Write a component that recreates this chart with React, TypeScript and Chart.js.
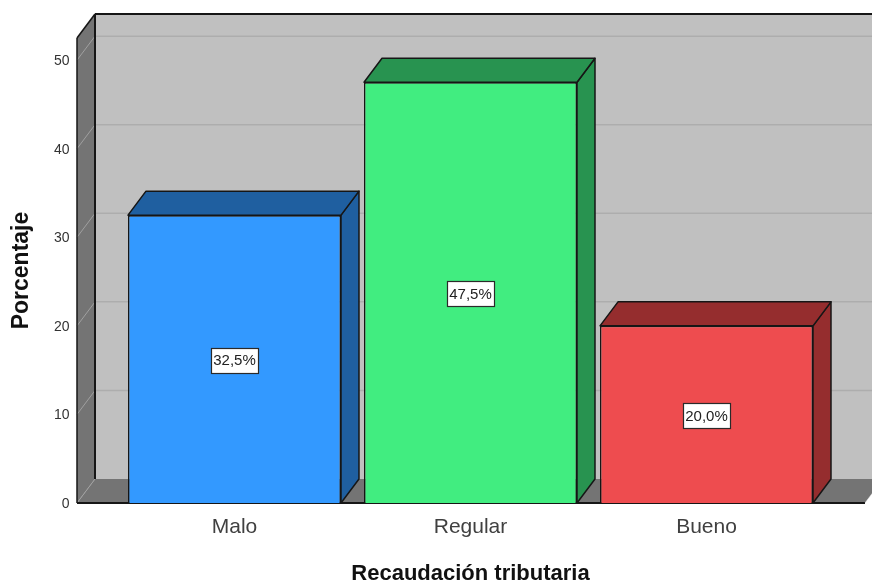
import React, { useEffect, useRef } from "react";
import { Chart, registerables } from "chart.js";

Chart.register(...registerables);

const categories = ["Malo", "Regular", "Bueno"];
const percentages = [32.5, 47.5, 20.0];
const faceColors = ["#3399ff", "#41ed80", "#ee4c4f"];
const sideColors = ["#1f5fa0", "#289350", "#952d2e"];
const axisTitleX = "Recaudación tributaria";
const axisTitleY = "Porcentaje";
const FONT = "'Liberation Sans', Arial, sans-serif";
const DX = 18;
const DY = 24;
const INK = "#161616";

function poly(ctx: any, pts: number[][], fill: string | null, stroke: string | null, lw = 1.5) {
  ctx.beginPath();
  pts.forEach((p, i) => (i ? ctx.lineTo(p[0], p[1]) : ctx.moveTo(p[0], p[1])));
  ctx.closePath();
  if (fill) {
    ctx.fillStyle = fill;
    ctx.fill();
  }
  if (stroke) {
    ctx.strokeStyle = stroke;
    ctx.lineWidth = lw;
    ctx.lineJoin = "round";
    ctx.stroke();
  }
}

function seg(ctx: any, x1: number, y1: number, x2: number, y2: number, color: string, lw: number) {
  ctx.beginPath();
  ctx.moveTo(x1, y1);
  ctx.lineTo(x2, y2);
  ctx.strokeStyle = color;
  ctx.lineWidth = lw;
  ctx.stroke();
}

const scene3d = {
  id: "scene3d",
  beforeDatasetsDraw(chart: any) {
    const { ctx, chartArea, scales } = chart;
    const y0 = scales.y.getPixelForValue(0);
    const top = chartArea.top;
    const left = 77;
    const right = 865;
    ctx.save();
    // back wall
    poly(ctx, [[left + DX, top - DY], [right + DX + 20, top - DY], [right + DX + 20, y0 - DY], [left + DX, y0 - DY]], "#c0c0c0", null);
    // side wall
    poly(ctx, [[left, top], [left + DX, top - DY], [left + DX, y0 - DY], [left, y0]], "#747474", null);
    // floor
    poly(ctx, [[left, y0], [left + DX, y0 - DY], [right + DX, y0 - DY], [right, y0]], "#747474", null);
    // grid
    scales.y.ticks.forEach((t: any) => {
      const y = scales.y.getPixelForValue(t.value);
      if (t.value !== 0) seg(ctx, left + DX, y - DY, 872, y - DY, "#adadad", 1.5);
      seg(ctx, left, y, left + DX, y - DY, "#a0a0a0", 1);
    });
    // outlines
    seg(ctx, left + DX, top - DY, 872, top - DY, INK, 2);
    seg(ctx, left + DX, top - DY, left + DX, y0 - DY, INK, 2);
    seg(ctx, left, top, left + DX, top - DY, INK, 1.5);
    seg(ctx, left, top, left, y0, INK, 1.5);
    seg(ctx, left, y0, right, y0, INK, 2);
    seg(ctx, right, y0, right + DX, y0 - DY, "#ffffff", 0.5);
    // bar sides and tops
    chart.getDatasetMeta(0).data.forEach((bar: any, i: number) => {
      const hw = bar.width / 2;
      const l = bar.x - hw;
      const r = bar.x + hw;
      poly(ctx, [[r, bar.y], [r + DX, bar.y - DY], [r + DX, y0 - DY], [r, y0]], sideColors[i], INK);
      poly(ctx, [[l, bar.y], [l + DX, bar.y - DY], [r + DX, bar.y - DY], [r, bar.y]], sideColors[i], INK);
    });
    ctx.restore();
  },
  afterDatasetsDraw(chart: any) {
    const { ctx, scales } = chart;
    const y0 = scales.y.getPixelForValue(0);
    ctx.save();
    chart.getDatasetMeta(0).data.forEach((bar: any, i: number) => {
      const text = percentages[i].toFixed(1).replace(".", ",") + "%";
      const cy = (bar.y + y0) / 2 + 1;
      ctx.font = `15px ${FONT}`;
      const w = 47;
      const h = 25;
      const x = Math.round(bar.x - w / 2) + 0.5;
      const yy = Math.round(cy - h / 2) + 0.5;
      ctx.fillStyle = "#ffffff";
      ctx.fillRect(x, yy, w, h);
      ctx.strokeStyle = "#2a2a2a";
      ctx.lineWidth = 1.2;
      ctx.strokeRect(x, yy, w, h);
      ctx.fillStyle = "#222222";
      ctx.textAlign = "center";
      ctx.textBaseline = "middle";
      ctx.fillText(text, bar.x, cy + 1);
    });
    ctx.restore();
  },
};

export default function App() {
  const ref = useRef<HTMLCanvasElement>(null);
  useEffect(() => {
    const chart = new Chart(ref.current!, {
      type: "bar",
      data: {
        labels: categories,
        datasets: [
          {
            data: percentages,
            backgroundColor: faceColors,
            borderColor: INK,
            borderWidth: 1.5,
            categoryPercentage: 1,
            barPercentage: 0.9025,
          },
        ],
      },
      options: {
        responsive: false,
        animation: false,
        layout: { padding: { top: 38, right: 47.5, left: 0, bottom: 0 } },
        plugins: { legend: { display: false }, tooltip: { enabled: false } },
        scales: {
          x: {
            grid: { display: false },
            border: { display: false },
            ticks: { color: "#404040", font: { family: FONT, size: 21 }, padding: 4, maxRotation: 0 },
            title: {
              display: true,
              text: axisTitleX,
              color: "#111111",
              font: { family: FONT, size: 22, weight: "bold" },
              padding: { top: 0, bottom: -5.5 },
            },
            afterFit(scale: any) {
              scale.height = 79;
            },
          },
          y: {
            min: 0,
            max: 52.5,
            grid: { display: false },
            border: { display: false },
            ticks: {
              stepSize: 10,
              includeBounds: false,
              color: "#333333",
              font: { family: FONT, size: 14 },
              padding: 39,
              labelOffset: 1,
            },
            title: {
              display: true,
              text: axisTitleY,
              color: "#111111",
              font: { family: FONT, size: 23, weight: "bold" },
              padding: { top: 8, bottom: 0 },
            },
            afterFit(scale: any) {
              scale.width = 116.5;
              scale.paddingTop = 0;
              scale.paddingBottom = 0;
            },
          },
        },
      },
      plugins: [scene3d],
    } as any);
    return () => chart.destroy();
  }, []);
  return (
    <div style={{ position: "absolute", left: 0, top: 0, width: 872, height: 582, overflow: "hidden", background: "#fff" }}>
      <canvas ref={ref} width={872} height={582} style={{ display: "block" }} />
    </div>
  );
}
